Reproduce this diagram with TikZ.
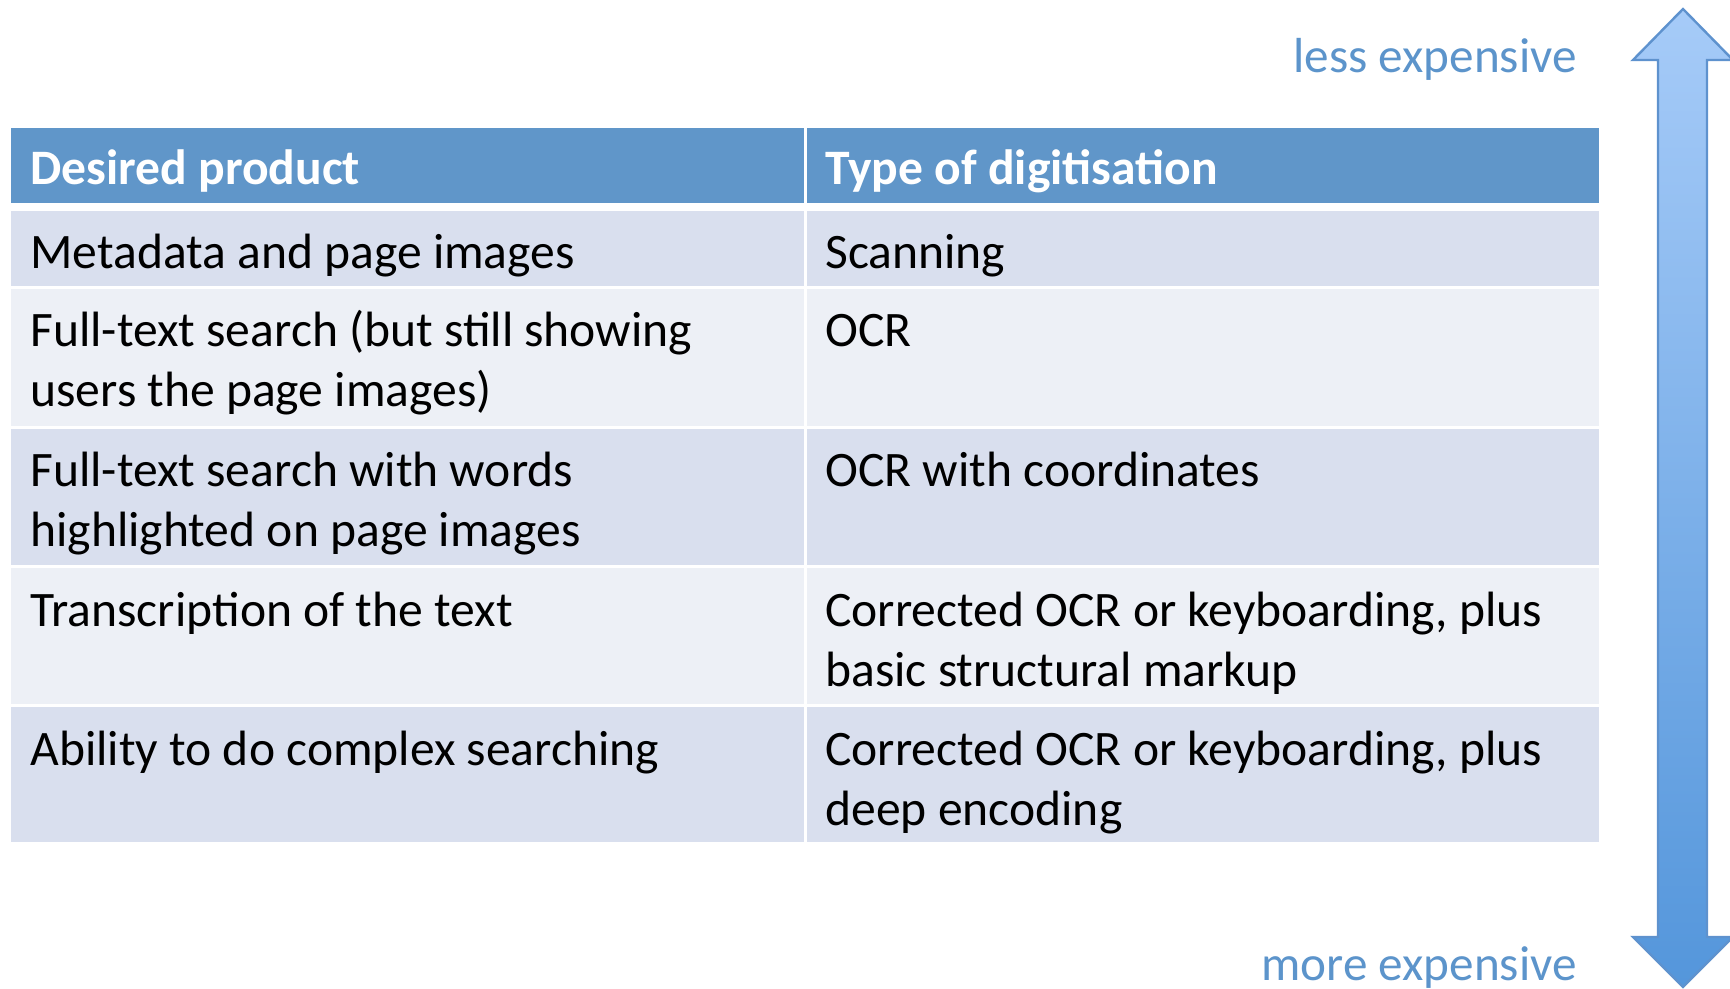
\documentclass[tikz,border=0pt]{standalone}
\usepackage{fontspec}
\setmainfont{Carlito}

\definecolor{headblue}{HTML}{6096C9}
\definecolor{rowdark}{HTML}{D9DFEE}
\definecolor{rowlight}{HTML}{EDF0F6}
\definecolor{labelblue}{HTML}{5C94CB}
\definecolor{arrowtop}{HTML}{A6CBF8}
\definecolor{arrowbot}{HTML}{5496DB}
\definecolor{arrowline}{HTML}{5E92CE}

\newcommand{\cellbox}[1]{\parbox[t]{380pt}{\raggedright #1}}

\begin{document}
\begin{tikzpicture}[x=.5pt,y=-.5pt,
    txt/.style={anchor=base west,inner sep=0pt,font=\fontsize{24.8pt}{30pt}\selectfont},
    lbl/.style={anchor=base east,inner sep=0pt,text=labelblue,font=\fontsize{24.6pt}{30pt}\selectfont}]
    \useasboundingbox (0,0) rectangle (1730,989);

    \fill [headblue] (11,128) rectangle (804,203);
    \fill [headblue] (807,128) rectangle (1599,203);
    \node [txt,text=white,font=\fontsize{24.8pt}{30pt}\selectfont\bfseries] (h1) at (30,185) {Desired product};
    \node [txt,text=white,font=\fontsize{24.8pt}{30pt}\selectfont\bfseries] (h2) at (825,185) {Type of digitisation};

    \foreach \n/\ya/\yb/\col/\p/\q in {%
        1/211/286/rowdark/{Metadata and page images}/{Scanning},
        2/289/426/rowlight/{Full-text search (but still showing\\users the page images)}/{OCR},
        3/429/565/rowdark/{Full-text search with words\\highlighted on page images}/{OCR with coordinates},
        4/568/704/rowlight/{Transcription of the text}/{Corrected OCR or keyboarding, plus\\basic structural markup},
        5/707/842/rowdark/{Ability to do complex searching}/{Corrected OCR or keyboarding, plus\\deep encoding}}{%
        \fill [\col] (11,\ya) rectangle (804,\yb);
        \fill [\col] (807,\ya) rectangle (1599,\yb);
        \node [txt] (p\n) at (30,\ya+58) {\cellbox{\p}};
        \node [txt] (d\n) at (825,\ya+58) {\cellbox{\q}};}

    \draw [draw=arrowline, line width=1.2pt, top color=arrowtop, bottom color=arrowbot]
        (1683,9) -- (1733,60) -- (1707,60) -- (1707,937) -- (1733,937) -- (1683,987)
        -- (1633,937) -- (1658,937) -- (1658,60) -- (1633,60) -- cycle;

    \node [lbl] (less) at (1577,73)  {less expensive};
    \node [lbl] (more) at (1577,980) {more expensive};
\end{tikzpicture}
\end{document}
